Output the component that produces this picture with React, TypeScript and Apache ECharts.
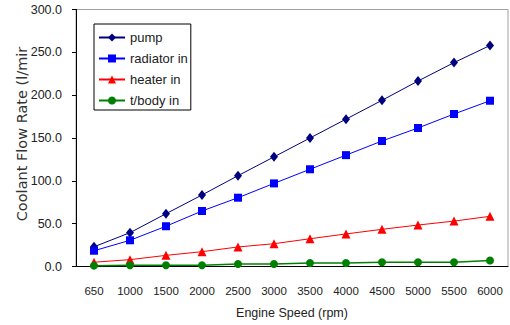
import React, { useEffect, useRef } from "react";
import * as echarts from "echarts";

const categories = ["650", "1000", "1500", "2000", "2500", "3000", "3500", "4000", "4500", "5000", "5500", "6000"];
const pump = [23, 39.5, 61.6, 83.5, 106, 128, 150, 172, 194, 216.5, 238, 258];
const radiatorIn = [18.4, 30.6, 47, 64.8, 80.3, 97, 113.5, 130, 146.5, 161.7, 178, 193.5];
const heaterIn = [5, 8, 13, 17.3, 22.8, 26.6, 32.4, 38, 43.4, 48.4, 53, 58.6];
const tBodyIn = [1, 1.5, 1.5, 1.5, 3, 3, 4, 4, 5, 5, 5, 7];
const yTicks = { min: 0, max: 300, interval: 50 };

const FONT = "'Liberation Sans', Arial, sans-serif";

export default function App() {
  const ref = useRef<HTMLDivElement>(null);
  useEffect(() => {
    if (!ref.current) return;
    const chart = echarts.init(ref.current, null, { renderer: "svg" });
    const mk = (name: string, data: number[], color: string, symbol: string, size: any, width = 1) => ({
      name,
      type: "line",
      data,
      symbol,
      symbolSize: size,
      showSymbol: true,
      itemStyle: { color },
      lineStyle: { color, width },
      z: 3,
    });
    chart.setOption({
      animation: false,
      backgroundColor: "#ffffff",
      textStyle: { fontFamily: FONT },
      grid: {
        left: 76,
        top: 9.5,
        right: 2,
        bottom: 58.5,
        show: true,
        borderColor: "#a0a0a0",
        borderWidth: 1,
        backgroundColor: "transparent",
      },
      legend: {
        orient: "vertical",
        left: 94,
        top: 24,
        padding: [7, 3, 3, 4],
        itemGap: 8,
        itemWidth: 26,
        itemHeight: 10,
        borderColor: "#000",
        borderWidth: 1,
        backgroundColor: "#fff",
        textStyle: { fontFamily: FONT, fontSize: 13, color: "#222" },
        data: ["pump", "radiator in", "heater in", "t/body in"],
      },
      xAxis: {
        type: "category",
        data: categories,
        boundaryGap: true,
        axisLine: { lineStyle: { color: "#000", width: 1 } },
        axisTick: { inside: true, length: 4, lineStyle: { color: "#000" } },
        axisLabel: { fontFamily: FONT, fontSize: 11.5, color: "#222", margin: 18 },
        splitLine: { show: false },
        name: "Engine Speed (rpm)",
        nameLocation: "middle",
        nameGap: 40,
        nameTextStyle: { fontFamily: FONT, fontSize: 12.5, color: "#222" },
      },
      yAxis: {
        type: "value",
        min: yTicks.min,
        max: yTicks.max,
        interval: yTicks.interval,
        axisLine: { show: true, lineStyle: { color: "#000", width: 1 } },
        axisTick: { show: true, inside: false, length: 4, lineStyle: { color: "#000" } },
        axisLabel: {
          fontFamily: FONT,
          fontSize: 12.5,
          color: "#222",
          margin: 14,
          formatter: (v: number) => v.toFixed(1),
        },
        splitLine: { show: false },
      },
      graphic: [
        {
          type: "text",
          x: 22,
          y: 134,
          rotation: Math.PI / 2,
          style: {
            text: "Coolant Flow Rate (l/mir",
            fontFamily: "'DejaVu Sans', sans-serif",
            fontSize: 14.5,
            fill: "#333",
            align: "center",
            verticalAlign: "middle",
          },
        },
      ],
      series: [
        mk("pump", pump, "#000080", "diamond", [8, 10]),
        mk("radiator in", radiatorIn, "#0000ff", "rect", 8),
        mk("heater in", heaterIn, "#ff0000", "triangle", 9),
        mk("t/body in", tBodyIn, "#008000", "circle", 8, 1.5),
      ],
    });
    return () => chart.dispose();
  }, []);
  return <div ref={ref} style={{ width: 510, height: 325, position: "absolute", left: 0, top: 0 }} />;
}
